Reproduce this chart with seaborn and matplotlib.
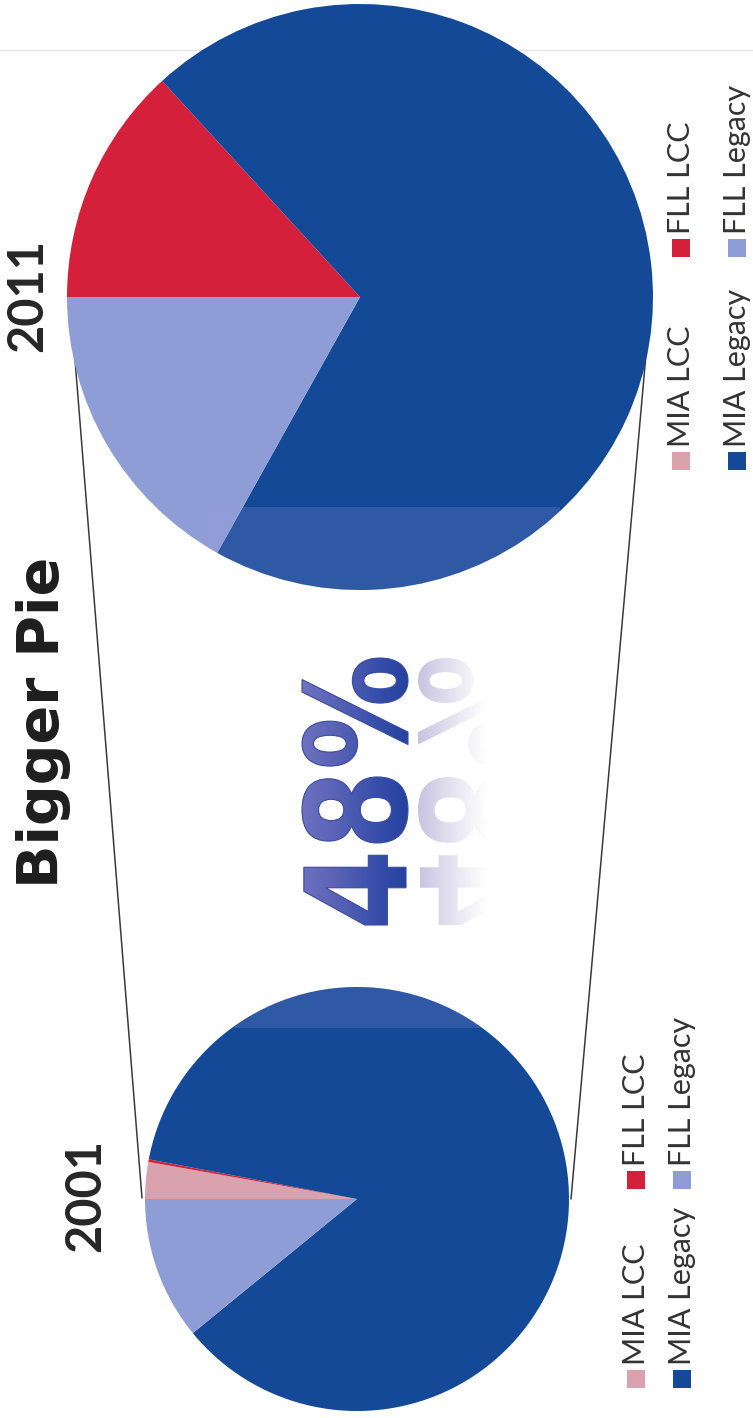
import numpy as np
import matplotlib
matplotlib.use("Agg")
import matplotlib.pyplot as plt
import seaborn as sns
from matplotlib.patches import Rectangle, Circle, PathPatch
from matplotlib.textpath import TextPath
from matplotlib.font_manager import FontProperties
from matplotlib.transforms import Affine2D
from matplotlib.colors import LinearSegmentedColormap

# Market share of passenger traffic (percent) by segment
segments = ["MIA LCC", "FLL LCC", "MIA Legacy", "FLL Legacy"]
share_2001 = [2.8, 0.2, 86.1, 10.9]
share_2011 = [0.0, 13.2, 69.9, 16.9]
years = ["2001", "2011"]
headline = "Bigger Pie"
growth = "48%"

sns.set_theme(style="white")
palette = sns.color_palette(["#d9a2ad", "#d5203b", "#134996", "#8e9dd5"])

W, H = 753, 1418
fig = plt.figure(figsize=(W / 100, H / 100), dpi=100, facecolor="white")
ax = fig.add_axes([0, 0, 1, 1])


def Y(row):
    """Convert a page row (counted from the top) to the y data coordinate."""
    return H - row


pies = {
    "2001": dict(values=share_2001, center=(357, Y(1199)), radius=212,
                 label_xy=(86, Y(1196)),
                 legend_cols=(627, 673), legend_rows=(Y(1388), Y(1189))),
    "2011": dict(values=share_2011, center=(360, Y(297)), radius=293,
                 label_xy=(28, Y(295)),
                 legend_cols=(672, 728), legend_rows=(Y(470), Y(257))),
}

# faint page edge at the top
ax.plot([0, W], [Y(50), Y(50)], color="#e4e4e4", lw=1.0, zorder=0)

# connector lines from the small pie to the big one
ax.plot([70, 142], [Y(297), Y(1198)], color="#3a3a3a", lw=1.1, zorder=1)
ax.plot([651, 571], [Y(298), Y(1199)], color="#3a3a3a", lw=1.1, zorder=1)

for yr in years:
    p = pies[yr]
    ax.pie(p["values"], colors=palette, center=p["center"], radius=p["radius"],
           startangle=180, counterclock=False,
           wedgeprops=dict(linewidth=0, zorder=2))

    # translucent lavender band over the pie
    band = Rectangle((207, Y(1028)), 353, 1028 - 507, facecolor="#a398e4",
                     alpha=0.2, lw=0, zorder=3)
    ax.add_patch(band)
    band.set_clip_path(Circle(p["center"], p["radius"], transform=ax.transData))

    # year label
    ax.text(*p["label_xy"], yr, rotation=90, ha="center", va="center",
            fontsize=35, fontweight="bold", family="Lato", color="#262626",
            zorder=6)

    # legend, two columns of two entries, reading upward
    sq = 18
    for i, (name, col) in enumerate(zip(segments, palette)):
        cx = p["legend_cols"][i // 2]
        ry = p["legend_rows"][i % 2]
        ax.add_patch(Rectangle((cx, ry), sq, sq, facecolor=col, lw=0, zorder=6))
        ax.text(cx + sq + 0.5, ry + sq + 5, name, rotation=90,
                rotation_mode="anchor", ha="left", va="baseline",
                fontsize=22, family="Lato", color="#333333", zorder=6)

# headline
ax.text(44, Y(722), headline, rotation=90, ha="center", va="center",
        fontsize=41, fontweight="bold", family="DejaVu Sans", color="#1e1e1e",
        zorder=6)

# big growth figure with gradient fill and a fading reflection
fp = FontProperties(family="DejaVu Sans", weight="bold")
tp = TextPath((0, 0), growth, size=100, prop=fp)
ext = tp.get_extents()
x0, x1, y0, y1 = 302, 408, Y(925), Y(658)
fit = (Affine2D().translate(-ext.x0, -ext.y0)
       .scale(1 / ext.width, 1 / ext.height)
       .rotate_deg(90)
       .scale(x1 - x0, y1 - y0)
       .translate(x1, y0))
glyphs = fit.transform_path(tp)
glyph_patch = PathPatch(glyphs, transform=ax.transData, facecolor="none",
                        edgecolor="#3b4aa2", lw=0.8, zorder=8)
ax.add_patch(glyph_patch)
fill_cmap = LinearSegmentedColormap.from_list(
    "glyph", ["#6d71c0", "#5862b5", "#3a50ab", "#24419e"])
ramp = np.linspace(0, 1, 256)[None, :]
im = ax.imshow(ramp, extent=(x0, x1, y0, y1), cmap=fill_cmap, aspect="auto",
               interpolation="bilinear", zorder=7)
im.set_clip_path(glyph_patch)

mirror_x = 413
mirror = fit + Affine2D().scale(-1, 1).translate(2 * mirror_x, 0)
ghost = mirror.transform_path(tp)
ghost_patch = PathPatch(ghost, transform=ax.transData, facecolor="none",
                        edgecolor="none")
ax.add_patch(ghost_patch)
rx0, rx1 = 2 * mirror_x - x1, 2 * mirror_x - x0
t = np.linspace(0, 1, 256)
alpha = np.clip(1 - t / 0.68, 0, 1) ** 1.2 * 0.85
rgba = np.zeros((1, 256, 4))
rgba[..., 0], rgba[..., 1], rgba[..., 2] = 0.74, 0.72, 0.86
rgba[..., 3] = alpha
im2 = ax.imshow(rgba, extent=(rx0, rx1, y0, y1), aspect="auto",
                interpolation="bilinear", zorder=7)
im2.set_clip_path(ghost_patch)

ax.set_xlim(0, W)
ax.set_ylim(0, H)
ax.set_aspect("auto")
ax.axis("off")

fig.savefig("out.png", dpi=100, facecolor="white")
